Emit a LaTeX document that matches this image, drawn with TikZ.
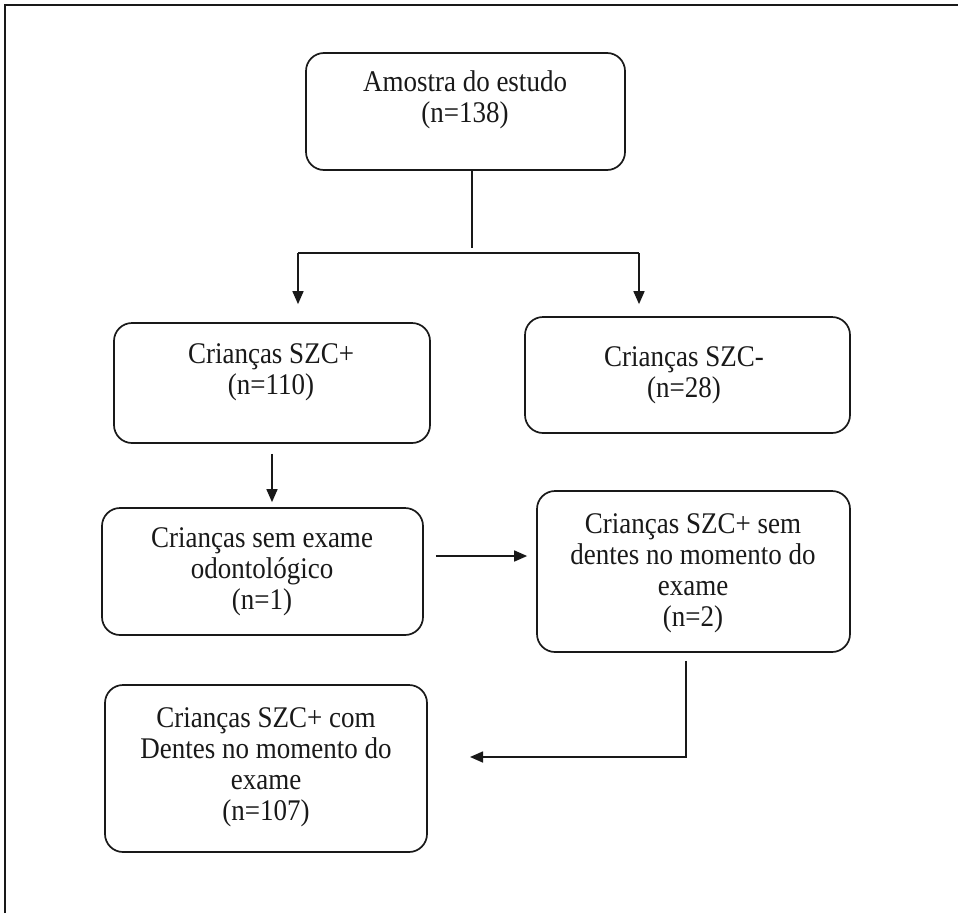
\documentclass[tikz,border=0pt]{standalone}
\usepackage{fontspec}
\setmainfont{Liberation Serif}
\usetikzlibrary{arrows.meta}
\begin{document}
\begin{tikzpicture}[x=1pt,y=-1pt,
  box/.style={draw=black!90, line width=1.7pt, rounded corners=18pt, inner sep=0pt},
  txt/.style={align=center, font=\fontsize{30}{31}\selectfont, xscale=0.9, inner sep=0pt, text=black!90},
  conn/.style={draw=black!90, line width=1.6pt},
  arr/.style={conn, -{Triangle[length=13pt,width=11pt]}},
  framestyle/.style={draw=black!90, line width=2pt}]
\useasboundingbox (0,0) rectangle (958,913);
% frame
\draw[framestyle] (5,913) -- (5,5) -- (958,5);
% boxes
\node[box, minimum width=319pt, minimum height=117pt] (A) at (465.5,111.5) {};
\node[box, minimum width=316pt, minimum height=120pt] (B) at (272,383) {};
\node[box, minimum width=325pt, minimum height=116pt] (C) at (687.5,375) {};
\node[box, minimum width=321pt, minimum height=127pt] (D) at (262.5,571.5) {};
\node[box, minimum width=313pt, minimum height=161pt] (E) at (693.5,571.5) {};
\node[box, minimum width=322pt, minimum height=167pt] (F) at (266,768.5) {};
% texts
\node[txt] (At) at (465,100) {Amostra do estudo\\(n=138)};
\node[txt] (Bt) at (271,372) {Crianças SZC+\\(n=110)};
\node[txt] (Ct) at (684,375) {Crianças SZC-\\(n=28)};
\node[txt] (Dt) at (262,572) {Crianças sem exame\\odontológico\\(n=1)};
\node[txt] (Et) at (693,573) {Crianças SZC+ sem\\dentes no momento do\\exame\\(n=2)};
\node[txt] (Ft) at (266,767) {Crianças SZC+ com\\Dentes no momento do\\exame\\(n=107)};
% connectors
\coordinate (j) at (472,253);
\coordinate (jl) at (298,253);
\coordinate (jr) at (639,253);
\draw[conn] (A.south -| j) -- ([yshift=5pt]j);
\draw[conn] (jl) -- (jr);
\draw[arr, shorten >=18pt] (jl) -- (jl |- B.north);
\draw[arr, shorten >=12pt] (jr) -- (jr |- C.north);
\draw[arr, shorten <=10pt, shorten >=5pt] (B.south) -- (B.south |- D.north);
\path ([yshift=15.5pt]D.east) coordinate (d1);
\draw[arr, shorten <=12pt, shorten >=9pt] (d1) -- (d1 -| E.west);
\coordinate (ef) at (686,757);
\coordinate (fend) at (470,757);
\draw[arr, shorten <=8pt] (E.south -| ef) -- (ef) -- (fend);
\end{tikzpicture}
\end{document}
